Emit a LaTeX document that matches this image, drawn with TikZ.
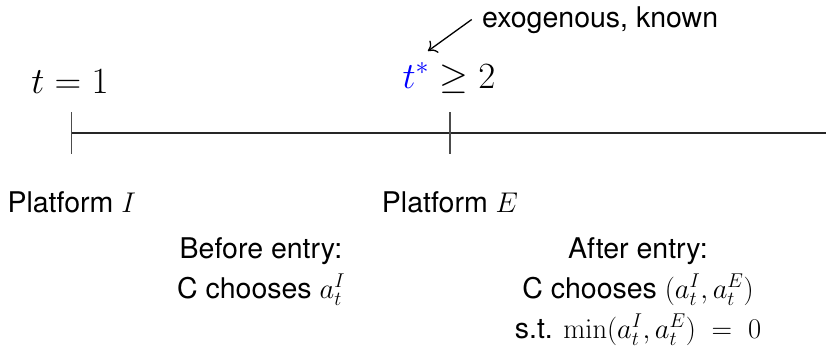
\RequirePackage{fix-cm}
\documentclass[tikz,border=0pt]{standalone}
\usepackage[no-math]{fontspec}
\setmainfont{TeX Gyre Heros}
\usetikzlibrary{arrows.meta}
\tikzset{
  txt/.style={inner sep=0pt, anchor=base, font=\fontsize{28.5}{34}\selectfont},
  bigmath/.style={inner sep=0pt, anchor=base, font=\fontsize{37}{44}\selectfont},
  axis/.style={draw=black!85, line width=1.1pt},
  tick/.style={draw=black!70, line width=1.1pt},
  callout/.style={draw=black, line width=1.3pt, -{To[length=8pt,width=15pt]}}
}
\begin{document}
\begin{tikzpicture}[x=1pt,y=-1pt]
\useasboundingbox (0,0) rectangle (826,354);
% timeline
\coordinate (t1) at (71.7,133);
\coordinate (t2) at (450,133);
\coordinate (tend) at (826,133);
\draw[axis] (t1) -- (tend);
\draw[tick] ([yshift=21pt]t1) -- ([yshift=-21pt]t1);
\draw[tick] ([yshift=21pt]t2) -- ([yshift=-21pt]t2);
% top labels
\node[bigmath] (lab1) at (70,93) {$t=1$};
\node[bigmath] (lab2) at (449,88) {$\textcolor{blue}{t^*}\geq 2$};
\node[txt, anchor=base west] (exo) at (482,27) {exogenous, known};
\coordinate (arrS) at (471.7,19.5);
\coordinate (arrE) at (428,51);
\draw[callout] (arrS) -- (arrE);
% platforms
\node[txt] (platI) at (71.7,212) {Platform $I$};
\node[txt] (platE) at (450,212) {Platform $E$};
% before entry
\node[txt] (bef1) at (261,258) {Before entry:};
\node[txt] (bef2) at (261,298) {C chooses $a_t^I$};
% after entry
\node[txt] (aft1) at (638,258) {After entry:};
\node[txt] (aft2) at (638,298) {C chooses $(a_t^I,a_t^E)$};
\node[txt] (aft3) at (638,338) {s.t. $\min(a_t^I,a_t^E)\ =\ 0$};
\end{tikzpicture}
\end{document}
